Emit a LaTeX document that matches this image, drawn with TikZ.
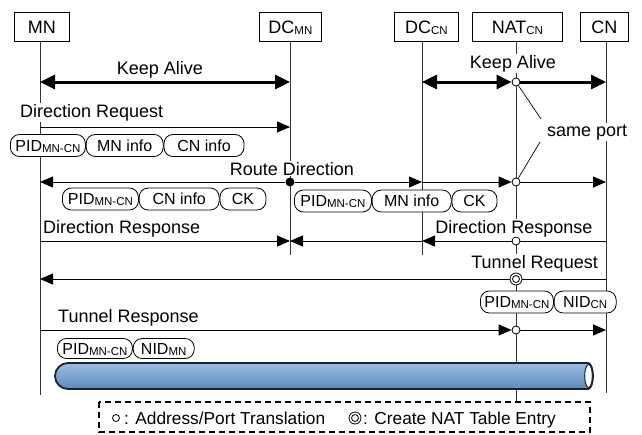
\documentclass[tikz,border=0pt]{standalone}
\usepackage{fontspec}
\setmainfont{Liberation Sans}
\usetikzlibrary{arrows.meta,calc}

% lowered, smaller subscript in running text
\newcommand{\sbs}[1]{\raisebox{-1.2pt}{\fontsize{11.5}{12}\selectfont #1}}

\definecolor{tubetop}{HTML}{9DBDE0}
\definecolor{tubemid}{HTML}{B8D0EA}
\definecolor{tubebot}{HTML}{5B8ABD}
\definecolor{tubeline}{HTML}{1A2230}

\tikzset{
  tri/.tip={Triangle[length=13pt,width=11pt]},
  bigtri/.tip={Triangle[length=15pt,width=14pt]},
  head/.style={draw, line width=0.8pt, minimum height=29pt, inner sep=0pt,
    text height=13pt, text depth=0pt, anchor=north west},
  life/.style={line width=0.9pt, black!80},
  lbl/.style={fill=white, inner sep=1pt},
  msg/.style={line width=0.9pt, -tri},
  plainmsg/.style={line width=0.9pt},
  keepboth/.style={line width=3pt, bigtri-bigtri},
  keepone/.style={line width=3pt, -bigtri},
  port/.style={circle, draw, fill=white, inner sep=0pt, minimum size=8pt, line width=0.8pt},
  dblport/.style={circle, draw, fill=white, inner sep=0pt, minimum size=12pt, line width=0.8pt,
    path picture={\draw[line width=0.8pt] (path picture bounding box.center) circle[radius=3.5pt];}},
  dot/.style={circle, fill=black, inner sep=0pt, minimum size=9pt},
  pkt/.style={draw, fill=white, rounded corners=9pt, minimum height=22pt, inner sep=0pt,
    line width=0.8pt, anchor=west, text height=11.5pt, text depth=0pt,
    font=\fontsize{16}{18}\selectfont},
  legendtxt/.style={font=\fontsize{17.3}{19}\selectfont, inner sep=0pt, anchor=base west},
}

\begin{document}
\begin{tikzpicture}[x=1pt,y=-1pt, every node/.style={font=\fontsize{18}{20}\selectfont}]
\useasboundingbox (0,0) rectangle (642,434);

% participants
\node[head, minimum width=55pt] (mn)  at (14,12)  {MN};
\node[head, minimum width=62pt] (dcm) at (259,12) {DC\sbs{MN}};
\node[head, minimum width=64pt] (dcc) at (394,12) {DC\sbs{CN}};
\node[head, minimum width=90pt] (nat) at (472,12) {NAT\sbs{CN}};
\node[head, minimum width=48pt] (cn)  at (580,12) {CN};

% lifelines
\coordinate (mn-end)  at (40,395);
\coordinate (dcm-end) at (290,255);
\coordinate (dcc-end) at (422,255);
\coordinate (nat-end) at (516,402);
\coordinate (cn-end)  at (606,393);
\foreach \h in {mn,dcm,dcc,nat,cn}
  \draw[life] (\h-end |- \h.south) -- (\h-end);

% message labels
\node[lbl, anchor=base] (t-ka1) at (160,74) {Keep Alive};
\node[lbl, anchor=base] (t-ka2) at (513,68) {Keep Alive};
\node[lbl, anchor=base west] (t-dq) at (19,117) {Direction Request};
\node[lbl, anchor=base] (t-rd) at (292,175) {Route Direction};
\node[lbl, anchor=base west] (t-dr1) at (42,233) {Direction Response};
\node[lbl, anchor=base] (t-dr2) at (514,233) {Direction Response};
\node[lbl, anchor=base east] (t-tq) at (599,268) {Tunnel Request};
\node[lbl, anchor=base west] (t-tr) at (57,322) {Tunnel Response};
\node[lbl, anchor=base west] (t-sp) at (546,136) {same port};

% Keep Alive
\coordinate (ka-mn)  at (40,82);
\coordinate (ka-dcm) at (290,82);
\coordinate (ka-dcc) at (422,82);
\node[port] (ka-nat) at (516,82) {};
\coordinate (ka-cn)  at (606,82);
\draw[keepboth] (ka-mn) -- (ka-dcm);
\draw[keepboth] (ka-dcc) -- (ka-nat);
\draw[keepone] (ka-nat) -- (ka-cn);

% Direction Request
\coordinate (dq-mn)  at (40,127);
\coordinate (dq-dcm) at (290,127);
\draw[msg] (dq-mn) -- (dq-dcm);

% Route Direction
\coordinate (rd-mn)  at (40,182);
\node[dot] (rd-dcm) at (290,182) {};
\coordinate (rd-dcc) at (422,182);
\node[port] (rd-nat) at (516,182) {};
\coordinate (rd-cn)  at (606,182);
\draw[msg] (rd-dcm) -- (rd-mn);
\draw[msg] (rd-dcm) -- (rd-dcc);
\draw[msg] (rd-dcc) -- (rd-nat);
\draw[msg] (rd-nat) -- (rd-cn);

% same port callout
\coordinate (sp-a) at (541,119);
\coordinate (sp-b) at (540,142);
\draw[line width=0.7pt] (ka-nat) -- (sp-a);
\draw[line width=0.7pt] (rd-nat) -- (sp-b);

% Direction Response
\coordinate (dr-mn)  at (40,241);
\coordinate (dr-dcm) at (290,241);
\coordinate (dr-dcc) at (422,241);
\node[port] (dr-nat) at (516,241) {};
\coordinate (dr-cn)  at (606,241);
\draw[msg] (dr-mn) -- (dr-dcm);
\draw[plainmsg] (dr-cn) -- (dr-nat);
\draw[msg] (dr-nat) -- (dr-dcc);
\draw[msg] (dr-dcc) -- (dr-dcm);

% Tunnel Request
\coordinate (tq-mn) at (40,279);
\node[dblport] (tq-nat) at (516,279) {};
\coordinate (tq-cn) at (606,279);
\draw[plainmsg] (tq-cn) -- (tq-nat);
\draw[msg] (tq-nat) -- (tq-mn);

% Tunnel Response
\coordinate (tr-mn) at (40,330);
\node[port] (tr-nat) at (516,330) {};
\coordinate (tr-cn) at (606,330);
\draw[msg] (tr-mn) -- (tr-nat);
\draw[msg] (tr-nat) -- (tr-cn);

% packet contents
\node[pkt, minimum width=75pt] (p1a) at (10,145.5) {PID\sbs{MN-CN}};
\node[pkt, minimum width=77pt] (p1b) at (p1a.east) {MN info};
\node[pkt, minimum width=80pt] (p1c) at (p1b.east) {CN info};

\node[pkt, minimum width=76pt] (p2a) at (62,199) {PID\sbs{MN-CN}};
\node[pkt, minimum width=80pt] (p2b) at (p2a.east) {CN info};
\node[pkt, minimum width=46pt] (p2c) at (p2b.east) {CK};

\node[pkt, minimum width=77pt] (p3a) at (294,201) {PID\sbs{MN-CN}};
\node[pkt, minimum width=79pt] (p3b) at (p3a.east) {MN info};
\node[pkt, minimum width=45pt] (p3c) at (p3b.east) {CK};

\node[pkt, minimum width=73pt] (p4a) at (480,302) {PID\sbs{MN-CN}};
\node[pkt, minimum width=62pt] (p4b) at (p4a.east) {NID\sbs{CN}};

\node[pkt, minimum width=75pt, minimum height=20pt] (p5a) at (57,348.5) {PID\sbs{MN-CN}};
\node[pkt, minimum width=61pt, minimum height=20pt] (p5b) at (p5a.east) {NID\sbs{MN}};

% tunnel pipe
\shade[top color=tubetop, middle color=tubemid, bottom color=tubebot]
  (68,363) -- (588,363) arc (-90:90:5 and 13) -- (68,389) arc (90:270:13) -- cycle;
\draw[tubeline, line width=1.8pt]
  (68,363) -- (588,363) arc (-90:90:5 and 13) -- (68,389) arc (90:270:13) -- cycle;
\draw[tubeline, line width=1pt, fill=white] (588.5,376) ellipse (3.8 and 11.5);

% legend
\draw[line width=1.3pt, dash pattern=on 6pt off 4pt] (99,402) rectangle (590,432);
\node[port, minimum size=7pt] (lg-port) at (116,418) {};
\node[legendtxt] (lg-t1) at (124,424) {: Address/Port Translation};
\node[dblport] (lg-dbl) at (355,418) {};
\node[legendtxt] (lg-t2) at (363,424) {: Create NAT Table Entry};
\end{tikzpicture}
\end{document}
